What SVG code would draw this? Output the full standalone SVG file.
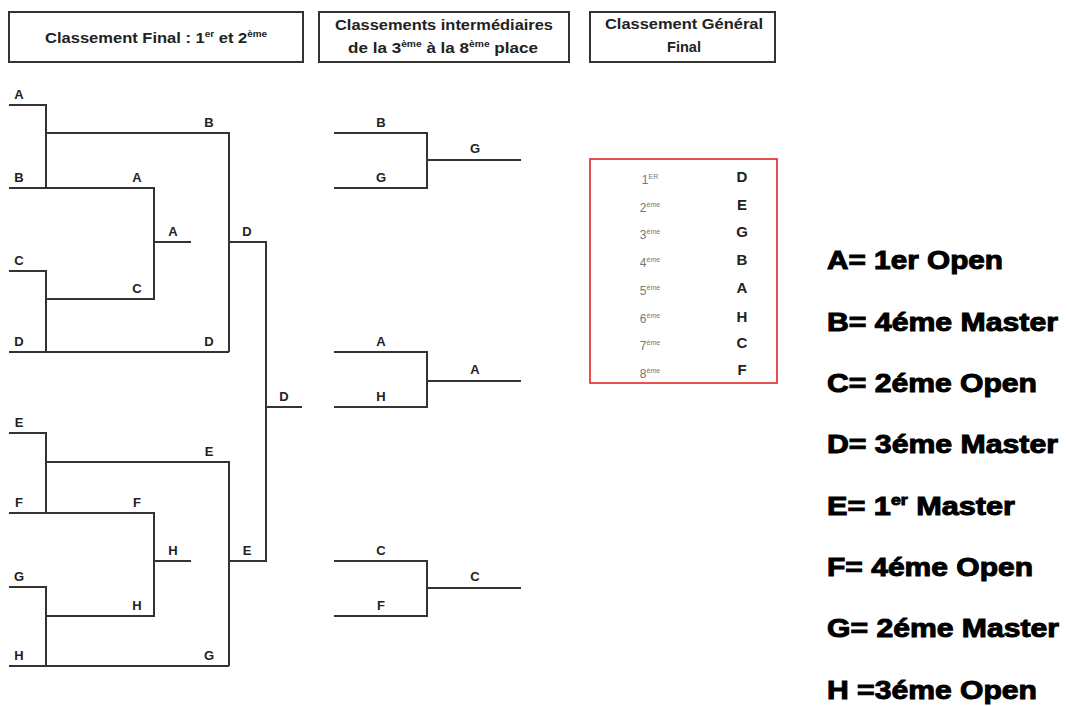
<svg xmlns="http://www.w3.org/2000/svg" width="1068" height="706" viewBox="0 0 1068 706">
<style>
.hbox{fill:#fff;stroke:#333;stroke-width:2}
.ht{font-family:"Liberation Sans",Arial,sans-serif;font-weight:bold;font-size:15px;fill:#222;text-anchor:middle}
.lbl{font-family:"Liberation Sans",Arial,sans-serif;font-weight:bold;font-size:13px;fill:#222;text-anchor:middle}
.ln{fill:none;stroke:#333;stroke-width:2}
.ord{font-family:"Liberation Sans",Arial,sans-serif;font-size:12px;fill:#777;text-anchor:middle}
.rk{font-family:"Liberation Sans",Arial,sans-serif;font-weight:bold;font-size:15px;fill:#222;text-anchor:middle}
.lg{font-family:"Liberation Sans",Arial,sans-serif;font-weight:bold;font-size:26px;fill:#000;stroke:#000;stroke-width:1}
</style>
<rect width="1068" height="706" fill="#fff"/>
<g id="header1">
<rect class="hbox" x="9" y="12" width="294" height="50"/>
<text class="ht" x="156" y="43" textLength="222" lengthAdjust="spacingAndGlyphs">Classement Final : 1<tspan font-size="9" dy="-6">er</tspan><tspan dy="6"> et 2</tspan><tspan font-size="9" dy="-6">ème</tspan></text>
</g>
<g id="header2">
<rect class="hbox" x="319" y="12" width="250" height="50"/>
<text class="ht" x="444" y="30" textLength="218" lengthAdjust="spacingAndGlyphs">Classements intermédiaires</text>
<text class="ht" x="443" y="53" textLength="190" lengthAdjust="spacingAndGlyphs">de la 3<tspan font-size="9" dy="-6">ème</tspan><tspan dy="6"> à la 8</tspan><tspan font-size="9" dy="-6">ème</tspan><tspan dy="6"> place</tspan></text>
</g>
<g id="header3">
<rect class="hbox" x="590" y="12" width="185" height="50"/>
<text class="ht" x="684" y="29" textLength="158" lengthAdjust="spacingAndGlyphs">Classement Général</text>
<text class="ht" x="684" y="52" textLength="34" lengthAdjust="spacingAndGlyphs">Final</text>
</g>
<g id="connectors">
<path class="ln" d="M9,105 H46 V188"/>
<path class="ln" d="M9,188 H154 V299 H46"/>
<path class="ln" d="M46,133 H229 V352"/>
<path class="ln" d="M9,271 H46 V352"/>
<path class="ln" d="M9,352 H229"/>
<path class="ln" d="M154,242 H191"/>
<path class="ln" d="M229,242 H266 V561 H229"/>
<path class="ln" d="M266,407 H302"/>
<path class="ln" d="M9,433 H46 V513"/>
<path class="ln" d="M46,462 H229 V666"/>
<path class="ln" d="M9,513 H154 V616 H46"/>
<path class="ln" d="M154,561 H191"/>
<path class="ln" d="M9,587 H46 V666"/>
<path class="ln" d="M9,666 H229"/>
<path class="ln" d="M334,133 H427 V188 H334"/>
<path class="ln" d="M427,160 H521"/>
<path class="ln" d="M334,352 H427 V407 H334"/>
<path class="ln" d="M427,381 H521"/>
<path class="ln" d="M334,561 H427 V616 H334"/>
<path class="ln" d="M427,588 H521"/>
</g>
<g id="labels-main">
<text class="lbl" x="19" y="99">A</text>
<text class="lbl" x="19" y="182">B</text>
<text class="lbl" x="19" y="265">C</text>
<text class="lbl" x="19" y="346">D</text>
<text class="lbl" x="19" y="427">E</text>
<text class="lbl" x="19" y="507">F</text>
<text class="lbl" x="19" y="581">G</text>
<text class="lbl" x="19" y="660">H</text>
<text class="lbl" x="209" y="127">B</text>
<text class="lbl" x="137" y="182">A</text>
<text class="lbl" x="137" y="293">C</text>
<text class="lbl" x="209" y="346">D</text>
<text class="lbl" x="209" y="456">E</text>
<text class="lbl" x="137" y="507">F</text>
<text class="lbl" x="137" y="610">H</text>
<text class="lbl" x="209" y="660">G</text>
<text class="lbl" x="173" y="236">A</text>
<text class="lbl" x="247" y="236">D</text>
<text class="lbl" x="173" y="555">H</text>
<text class="lbl" x="247" y="555">E</text>
<text class="lbl" x="284" y="401">D</text>
</g>
<g id="labels-intermediate">
<text class="lbl" x="381" y="127">B</text>
<text class="lbl" x="381" y="182">G</text>
<text class="lbl" x="475" y="153">G</text>
<text class="lbl" x="381" y="346">A</text>
<text class="lbl" x="381" y="401">H</text>
<text class="lbl" x="475" y="374">A</text>
<text class="lbl" x="381" y="555">C</text>
<text class="lbl" x="381" y="610">F</text>
<text class="lbl" x="475" y="581">C</text>
</g>
<g id="general-ranking">
<rect x="590" y="159" width="187" height="224" fill="#fff" stroke="#e52222" stroke-width="1.6"/>
<text class="ord" x="650" y="184">1<tspan font-size="7" dy="-5">ER</tspan></text>
<text class="ord" x="650" y="212">2<tspan font-size="7" dy="-5">ème</tspan></text>
<text class="ord" x="650" y="239">3<tspan font-size="7" dy="-5">ème</tspan></text>
<text class="ord" x="650" y="267">4<tspan font-size="7" dy="-5">ème</tspan></text>
<text class="ord" x="650" y="295">5<tspan font-size="7" dy="-5">ème</tspan></text>
<text class="ord" x="650" y="323">6<tspan font-size="7" dy="-5">ème</tspan></text>
<text class="ord" x="650" y="350">7<tspan font-size="7" dy="-5">ème</tspan></text>
<text class="ord" x="650" y="378">8<tspan font-size="7" dy="-5">ème</tspan></text>
<text class="rk" x="742" y="182">D</text>
<text class="rk" x="742" y="210">E</text>
<text class="rk" x="742" y="237">G</text>
<text class="rk" x="742" y="265">B</text>
<text class="rk" x="742" y="293">A</text>
<text class="rk" x="742" y="322">H</text>
<text class="rk" x="742" y="348">C</text>
<text class="rk" x="742" y="375">F</text>
</g>
<g id="legend">
<text class="lg" x="827" y="269" textLength="176" lengthAdjust="spacingAndGlyphs">A= 1er Open</text>
<text class="lg" x="827" y="331" textLength="231" lengthAdjust="spacingAndGlyphs">B= 4éme Master</text>
<text class="lg" x="827" y="392" textLength="210" lengthAdjust="spacingAndGlyphs">C= 2éme Open</text>
<text class="lg" x="827" y="453" textLength="231" lengthAdjust="spacingAndGlyphs">D= 3éme Master</text>
<text class="lg" x="827" y="515" textLength="188" lengthAdjust="spacingAndGlyphs">E= 1<tspan font-size="15" dy="-10">er</tspan><tspan dy="10"> Master</tspan></text>
<text class="lg" x="827" y="576" textLength="206" lengthAdjust="spacingAndGlyphs">F= 4éme Open</text>
<text class="lg" x="827" y="637" textLength="232" lengthAdjust="spacingAndGlyphs">G= 2éme Master</text>
<text class="lg" x="827" y="699" textLength="210" lengthAdjust="spacingAndGlyphs">H =3éme Open</text>
</g>
</svg>
